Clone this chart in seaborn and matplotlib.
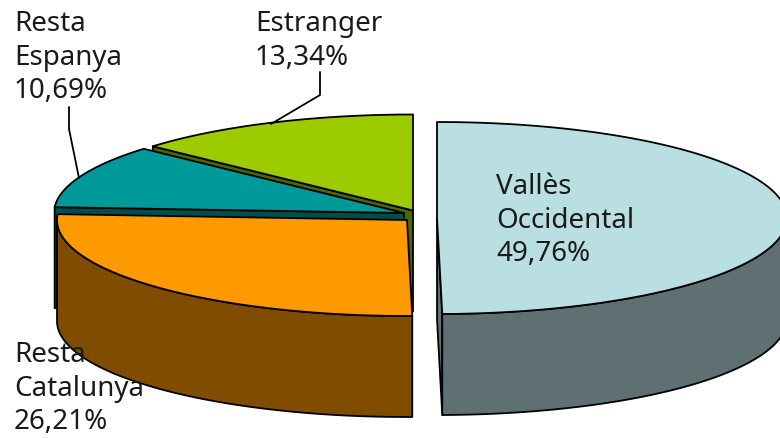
import numpy as np
import matplotlib
matplotlib.use("Agg")
import matplotlib.pyplot as plt
import seaborn as sns

names = ["Vallès\nOccidental", "Resta\nCatalunya", "Resta\nEspanya", "Estranger"]
shares = [49.76, 26.21, 10.69, 13.34]
value_labels = ["49,76%", "26,21%", "10,69%", "13,34%"]
top_colors = ["#BADFE3", "#FF9900", "#009999", "#9CCC00"]
side_colors = ["#5F7072", "#804C00", "#004D4D", "#4E6600"]

sns.set_theme(style="white")
plt.rcParams["font.family"] = ["Noto Sans", "DejaVu Sans"]

RX, RY, DEPTH = 350.0, 96.0, 101.0
centers = [(437, 218), (407, 220), (404, 213), (413, 210.5)]

fig = plt.figure(figsize=(7.8, 4.38), dpi=100, facecolor="white")
ax = fig.add_axes([0, 0, 1, 1])
ax.set_xlim(0, 780)
ax.set_ylim(438, 0)
ax.axis("off")

ends = np.cumsum(shares) / sum(shares) * 2 * np.pi
starts = np.concatenate([[0], ends[:-1]])


def arc(c, a, b):
    t = np.linspace(a, b, 200)
    return c[0] + RX * np.sin(t), c[1] - RY * np.cos(t)


def draw_slice(i, z):
    c, a, b = centers[i], starts[i], ends[i]
    x, y = arc(c, a, b)
    kw = dict(edgecolor="black", linewidth=1.3, joinstyle="round", zorder=z)
    # cut walls that face the viewer
    if a > np.pi:
        ax.fill([c[0], x[0], x[0], c[0]], [c[1], y[0], y[0] + DEPTH, c[1] + DEPTH],
                facecolor=side_colors[i], **kw)
    if b < np.pi:
        ax.fill([c[0], x[-1], x[-1], c[0]], [c[1], y[-1], y[-1] + DEPTH, c[1] + DEPTH],
                facecolor=side_colors[i], **kw)
    # outer rim: only the part facing the viewer
    lo, hi = max(a, np.pi / 2), min(b, 3 * np.pi / 2)
    if lo < hi:
        rx_, ry_ = arc(c, lo, hi)
        ax.fill(np.r_[rx_, rx_[::-1]], np.r_[ry_, ry_[::-1] + DEPTH],
                facecolor=side_colors[i], **kw)
    # top face
    ax.fill(np.r_[c[0], x], np.r_[c[1], y], facecolor=top_colors[i], **kw)


for z, i in enumerate([3, 2, 1, 0]):
    draw_slice(i, z + 1)

# leader lines
ax.plot([69, 69, 79], [107, 129, 178], color="black", lw=1.3, zorder=6)
ax.plot([320, 320, 271], [72, 95, 124], color="black", lw=1.3, zorder=6)

text_kw = dict(fontsize=20, color="#1a1a1a", ha="left", va="top", linespacing=1.27, zorder=7)
ax.text(496, 173, names[0] + "\n" + value_labels[0], **text_kw)
ax.text(14, 341, names[1] + "\n" + value_labels[1], **text_kw)
ax.text(14, 10, names[2] + "\n" + value_labels[2], **text_kw)
ax.text(255, 10, names[3] + "\n" + value_labels[3], **text_kw)

fig.savefig("out.png", dpi=100, facecolor="white")
